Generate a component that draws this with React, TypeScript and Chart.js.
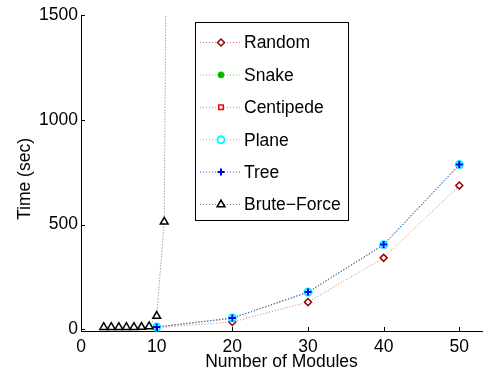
import React, { useEffect, useRef } from 'react';
import { Chart, registerables } from 'chart.js';
import { drawPoint } from 'chart.js/helpers';

Chart.register(...registerables);

const algoModules = [10, 20, 30, 40, 50];
const randomTimes = [8, 35, 130, 341, 686];
const snakeTimes = [11, 53, 177, 403, 785];
const centipedeTimes = [11, 52, 176, 401, 783];
const planeTimes = [11, 54, 178, 404, 786];
const treeTimes = [11, 54, 178, 405, 786];
const bruteModules = [3, 4, 5, 6, 7, 8, 9, 10, 11, 12];
const bruteTimes = [10, 10, 10, 10, 10, 11, 14, 63, 513, 5600];
const xTickValues = [0, 10, 20, 30, 40, 50];
const yTickValues = [0, 500, 1000, 1500];
const xTitle = 'Number of Modules';
const yTitle = 'Time (sec)';

const FONT = "'Liberation Sans', Arial, Helvetica, sans-serif";
const FS = 17.5;

function series(
  label: string,
  xs: number[],
  ys: number[],
  lineColor: string,
  markColor: string,
  fillColor: string,
  pointStyle: string,
  radius: number,
  pbw: number,
  order: number
) {
  return {
    label,
    data: xs.map((x, i) => ({ x, y: ys[i] })),
    borderColor: lineColor,
    borderWidth: 1,
    borderDash: [1, 2],
    pointStyle,
    pointRadius: radius,
    pointBorderWidth: pbw,
    pointBorderColor: markColor,
    pointBackgroundColor: fillColor,
    markColor,
    fillColor,
    showLine: true,
    tension: 0,
    order,
    clip: { left: 8, right: 8, top: 0, bottom: 8 },
  };
}

const inwardTicks = {
  id: 'inwardTicks',
  afterDatasetsDraw(chart: any) {
    const { ctx, chartArea, scales } = chart;
    ctx.save();
    ctx.strokeStyle = '#000';
    ctx.lineWidth = 1;
    ctx.beginPath();
    xTickValues.forEach((v) => {
      const px = Math.round(scales.x.getPixelForValue(v)) + 0.5;
      ctx.moveTo(px, chartArea.bottom);
      ctx.lineTo(px, chartArea.bottom - 4);
    });
    yTickValues.forEach((v) => {
      const py = Math.round(scales.y.getPixelForValue(v)) + 0.5;
      ctx.moveTo(chartArea.left, py);
      ctx.lineTo(chartArea.left + 4, py);
    });
    ctx.stroke();
    // y axis title
    ctx.fillStyle = '#000';
    ctx.font = `${FS}px ${FONT}`;
    ctx.textAlign = 'center';
    ctx.textBaseline = 'middle';
    ctx.translate(25, 179);
    ctx.rotate(-Math.PI / 2);
    ctx.fillText(yTitle, 0, 0);
    ctx.restore();
  },
};

const boxLegend = {
  id: 'boxLegend',
  afterDraw(chart: any) {
    const { ctx } = chart;
    const bx = 195.5, by = 22.5, bw = 153, bh = 198;
    ctx.save();
    ctx.fillStyle = '#fff';
    ctx.fillRect(bx, by, bw, bh);
    ctx.strokeStyle = '#000';
    ctx.lineWidth = 1;
    ctx.strokeRect(bx, by, bw, bh);
    chart.data.datasets.forEach((ds: any, i: number) => {
      const y = 42.5 + i * 32.4;
      ctx.save();
      ctx.strokeStyle = ds.borderColor;
      ctx.lineWidth = 1;
      ctx.setLineDash([1, 2]);
      ctx.beginPath();
      ctx.moveTo(200, y);
      ctx.lineTo(241, y);
      ctx.stroke();
      ctx.restore();
      ctx.save();
      ctx.strokeStyle = ds.markColor;
      ctx.fillStyle = ds.fillColor;
      ctx.lineWidth = ds.pointBorderWidth;
      drawPoint(ctx, { pointStyle: ds.pointStyle, radius: ds.pointRadius, borderWidth: ds.pointBorderWidth, rotation: 0 } as any, 221, y);
      ctx.restore();
      ctx.fillStyle = '#000';
      ctx.font = `${FS}px ${FONT}`;
      ctx.textBaseline = 'middle';
      ctx.textAlign = 'left';
      ctx.fillText(ds.label, 244, y + 1);
    });
    ctx.restore();
  },
};

export default function App() {
  const ref = useRef<HTMLCanvasElement | null>(null);
  useEffect(() => {
    if (!ref.current) return;
    const font = { family: FONT, size: FS };
    const chart = new Chart(ref.current, {
      type: 'scatter',
      data: {
        datasets: [
          series('Random', algoModules, randomTimes, 'rgba(190,60,60,0.7)', '#990000', '#ffffff', 'rectRot', 3.5, 1.5, 6),
          series('Snake', algoModules, snakeTimes, 'rgba(40,190,40,0.7)', '#00bb00', '#00bb00', 'circle', 3, 1, 5),
          series('Centipede', algoModules, centipedeTimes, 'rgba(240,60,60,0.7)', '#ff0000', '#ffffff', 'rect', 3.2, 1.5, 4),
          series('Plane', algoModules, planeTimes, 'rgba(40,210,230,0.8)', '#00ffff', '#ffffff', 'circle', 3.5, 2, 3),
          series('Tree', algoModules, treeTimes, 'rgba(40,70,210,0.85)', '#0000ff', '#0000ff', 'cross', 3.5, 2, 2),
          series('Brute\u2212Force', bruteModules, bruteTimes, 'rgba(80,80,80,0.8)', '#000000', '#ffffff', 'triangle', 4.5, 1.5, 1),
        ] as any,
      },
      options: {
        animation: false,
        responsive: false,
        layout: { padding: { top: 15, right: 0, left: 0, bottom: 0 } },
        plugins: { legend: { display: false }, tooltip: { enabled: false } },
        scales: {
          x: {
            type: 'linear',
            min: 0,
            max: 53,
            afterBuildTicks: (s: any) => { s.ticks = xTickValues.map((v) => ({ value: v })); },
            afterFit: (s: any) => { s.height = 42; },
            grid: { display: true, drawOnChartArea: false, drawTicks: false },
            border: { display: true, color: '#000', width: 1 },
            ticks: { color: '#000', font, padding: 6, maxRotation: 0, autoSkip: false, callback: (v: any) => String(v) },
            title: { display: true, text: xTitle, color: '#000', font, padding: { top: 0, bottom: 0 } },
          },
          y: {
            type: 'linear',
            min: -8,
            max: 1500,
            afterBuildTicks: (s: any) => { s.ticks = yTickValues.map((v) => ({ value: v })); },
            afterFit: (s: any) => { s.width = 81; },
            grid: { display: true, drawOnChartArea: false, drawTicks: false },
            border: { display: true, color: '#000', width: 1 },
            ticks: { color: '#000', font, padding: 3, autoSkip: false, callback: (v: any) => String(v) },
            title: { display: false },
          },
        },
      } as any,
      plugins: [inwardTicks, boxLegend],
    });
    return () => chart.destroy();
  }, []);
  return (
    <div style={{ position: 'absolute', left: 0, top: 0, width: 488, height: 373, background: '#fff' }}>
      <canvas ref={ref} width={488} height={373} style={{ display: 'block' }} />
    </div>
  );
}
